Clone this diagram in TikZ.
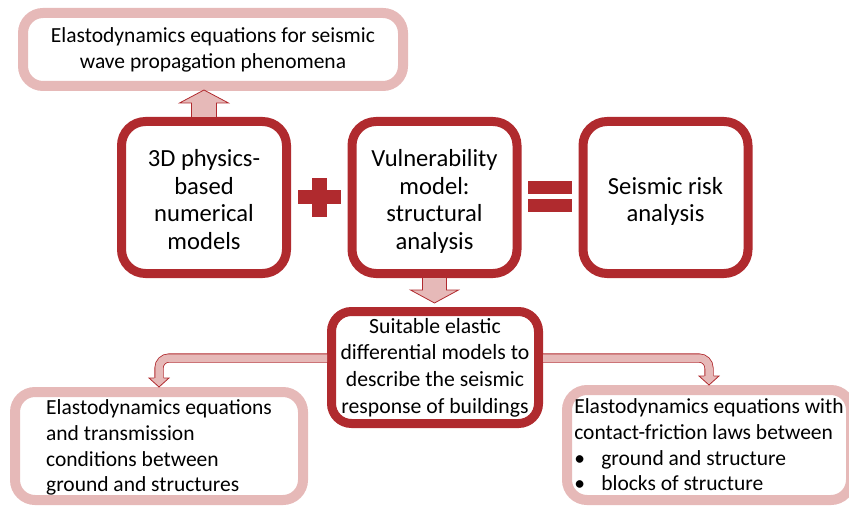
\documentclass[tikz,border=0pt]{standalone}
\usepackage{fontspec}
\setmainfont{Carlito}
\usetikzlibrary{calc}
\definecolor{darkred}{RGB}{176,42,46}
\definecolor{lightpink}{RGB}{230,185,184}
\newcommand{\tstrut}[1][1.1em]{\rule{0pt}{#1}}
\newcommand{\bstrut}[1][0.25em]{\rule[-#1]{0pt}{#1}}

\begin{document}
\begin{tikzpicture}[x=1pt,y=1pt,
  mainbox/.style={draw=darkred,line width=9pt,rounded corners=24pt,fill=white,minimum width=165pt,minimum height=152pt,align=center,inner sep=0pt,font=\fontsize{24.6}{27.8}\selectfont},
  sidebox/.style={draw=lightpink,line width=10pt,rounded corners=20pt,fill=white,inner sep=0pt,font=\fontsize{21.5}{26}\selectfont},
  blockarrow/.style={fill=lightpink,draw=darkred,line width=0.8pt,line join=miter},
  elbowshaft/.style={draw=darkred,line width=0.8pt,double=lightpink,double distance=7.5pt,rounded corners=10pt}]
\useasboundingbox (0,0) rectangle (849,507);
\clip (0,0) rectangle (849,507);

\node[sidebox,minimum width=380pt,minimum height=73pt,align=center] (wave) at (213,457.5) {Elastodynamics equations for seismic\\wave propagation phenomena};
\node[mainbox] (phys) at (204,309.5) {\tstrut 3D physics-\\based\\numerical\\models\bstrut};
\node[mainbox] (vuln) at (434.5,309.5) {\tstrut Vulnerability\\model:\\structural\\analysis\bstrut};
\node[mainbox] (risk) at (665.5,309.5) {\tstrut Seismic risk\\analysis\bstrut};
\node[mainbox,rounded corners=20pt,minimum width=207pt,minimum height=112pt,font=\fontsize{21.7}{26.7}\selectfont] (suit) at (435,139.5) {Suitable elastic\\differential models to\\describe the seismic\\response of buildings};
\node[sidebox,minimum width=288pt,minimum height=108pt,align=left,font=\fontsize{21.5}{25.7}\selectfont] (ground) at (159,61) {\tstrut[0.85em]Elastodynamics equations\\and transmission\\conditions between\\ground and structures};
\node[sidebox,minimum width=284pt,minimum height=110pt,align=left,font=\fontsize{21.5}{25.7}\selectfont] (contact) at (709,62) {Elastodynamics equations with\\contact-friction laws between\\\makebox[27pt][l]{•}ground and structure\\\makebox[27pt][l]{•}blocks of structure};

\fill[darkred] (298,303) rectangle (341,317);
\fill[darkred] (312,290) rectangle (327,329);
\fill[darkred] (528,313) rectangle (572,326);
\fill[darkred] (528,295) rectangle (572,308);

\filldraw[blockarrow] ($(phys.north)+(-12.5,0)$) -- ($(phys.north)+(-12.5,14)$) -- ($(phys.north)+(-24.5,14)$) -- ($(phys.north |- wave.south)+(0,1)$) -- ($(phys.north)+(24.5,14)$) -- ($(phys.north)+(12.5,14)$) -- ($(phys.north)+(12.5,0)$);
\filldraw[blockarrow] ($(vuln.south)+(-12,0)$) -- ($(vuln.south)+(-12,-12)$) -- ($(vuln.south)+(-24,-12)$) -- ($(vuln.south |- suit.north)+(0,4)$) -- ($(vuln.south)+(24,-12)$) -- ($(vuln.south)+(12,-12)$) -- ($(vuln.south)+(12,0)$);

\draw[elbowshaft] ($(suit.west)+(0,9.5)$) -| ($(ground.north)+(0,9)$);
\filldraw[blockarrow] ($(ground.north)+(-4.6,9)$) -- ($(ground.north)+(-10,9)$) -- (ground.north) -- ($(ground.north)+(10,9)$) -- ($(ground.north)+(4.6,9)$);
\draw[elbowshaft] ($(suit.east)+(0,9.5)$) -| ($(contact.north)+(0,9)$);
\filldraw[blockarrow] ($(contact.north)+(-4.6,9)$) -- ($(contact.north)+(-10,9)$) -- (contact.north) -- ($(contact.north)+(10,9)$) -- ($(contact.north)+(4.6,9)$);
\end{tikzpicture}
\end{document}
